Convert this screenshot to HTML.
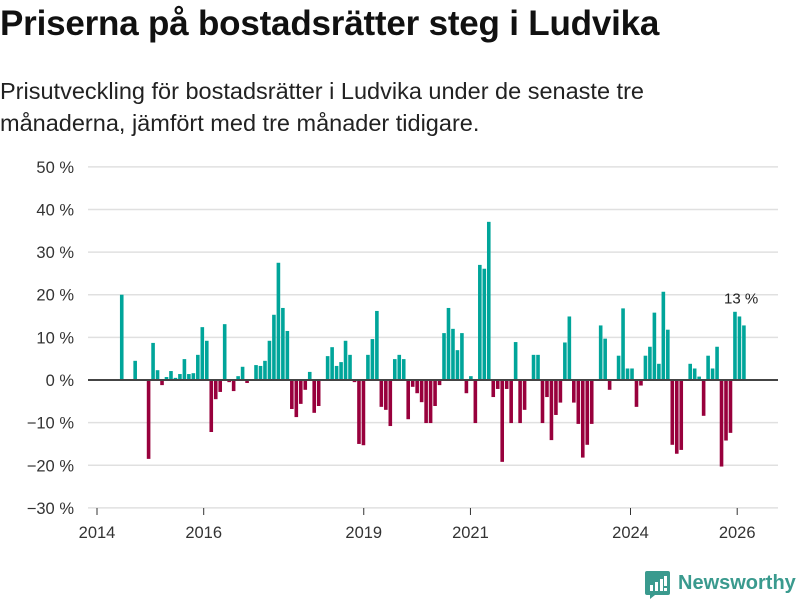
<!DOCTYPE html>
<html><head><meta charset="utf-8">
<style>
body{margin:0;background:#fff;font-family:"Liberation Sans",sans-serif;}
#wrap{position:relative;width:800px;height:600px;overflow:hidden;}
h1{position:absolute;left:0;top:4px;margin:0;font-size:35px;font-weight:bold;color:#111;letter-spacing:-0.2px;white-space:nowrap;}
p.sub{position:absolute;left:0;top:75px;margin:0;font-size:23.5px;line-height:32px;color:#222;width:790px;white-space:nowrap;}
</style></head><body>
<div id="wrap">
<h1>Priserna på bostadsrätter steg i Ludvika</h1>
<p class="sub">Prisutveckling för bostadsrätter i Ludvika under de senaste tre<br>månaderna, jämfört med tre månader tidigare.</p>
<svg id="chart" width="800" height="600" style="position:absolute;left:0;top:0"></svg>
<div style="position:absolute;left:645px;top:571px;height:28px;">
<svg width="25" height="28" style="position:absolute;left:0;top:0">
<path d="M2 0 H23 Q25 0 25 2 V22 Q25 24 23 24 H10 L5 28 V24 H2 Q0 24 0 22 V2 Q0 0 2 0Z" fill="#3a9a8e"/>
<rect x="5" y="14" width="3" height="6" fill="#fff"/><rect x="10" y="11" width="3" height="9" fill="#fff"/><rect x="15" y="8" width="3" height="12" fill="#fff"/><rect x="19" y="5" width="3" height="10" fill="#fff"/><rect x="19" y="17" width="3" height="3" fill="#fff"/>
</svg>
<span style="position:absolute;left:33px;top:1px;font-size:20px;font-weight:bold;color:#3a9a8e;white-space:nowrap;">Newsworthy</span>
</div>
</div>
<script>
const values = [20,null,null,4.5,null,null,-18.5,8.7,2.3,-1.2,
0.7,2.1,0.5,1.4,4.9,1.4,1.6,5.9,12.4,9.2,
-12.2,-4.5,-2.8,13.1,-0.5,-2.6,0.9,3.1,-0.7,null,
3.5,3.3,4.5,9.2,15.3,27.5,16.9,11.5,-6.8,-8.7,
-5.6,-2.3,1.9,-7.7,-6.1,null,5.6,7.7,3.3,4.2,
9.2,5.9,-0.5,-15,-15.3,5.9,9.6,16.2,-6.3,-7,
-10.8,4.9,5.9,4.9,-9.2,-1.6,-3.1,-5.2,-10.1,-10.1,
-6.1,-1.2,11,16.9,12,7,11,-3.1,0.9,-10.1,
27,26.1,37.1,-4,-2.1,-19.2,-2.1,-10.1,8.9,-10.1,
-7,null,5.9,5.9,-10.1,-4,-14.1,-8.2,-5.3,8.8,
14.9,-5.3,-10.3,-18.2,-15.2,-10.3,null,12.8,9.7,-2.3,
null,5.7,16.8,2.7,2.7,-6.3,-1.3,5.7,7.8,15.8,
3.8,20.7,11.8,-15.2,-17.3,-16.4,null,3.8,2.7,0.8,
-8.4,5.7,2.7,7.8,-20.3,-14.2,-12.4,16,14.9,12.8];
const startYear = 2014.43;
const periodYears = 0.0839;
const yTicks = [50,40,30,20,10,0,-10,-20,-30];
const xTicks = [2014,2016,2019,2021,2024,2026];
const lastLabel = "13 %";

const svg = document.getElementById('chart');
const NS = 'http://www.w3.org/2000/svg';
function xs(t){return 97 + (t-2014)*53.35;}
function ys(v){return 380 - v*4.263;}
function mk(tag, attrs){const e=document.createElementNS(NS,tag);for(const k in attrs)e.setAttribute(k,attrs[k]);svg.appendChild(e);return e;}

yTicks.forEach(v=>{
  const g = mk('line',{x1:88,x2:778,y1:ys(v),y2:ys(v),stroke:'#e0e0e0','stroke-width':1.5});
  
  
  const t = mk('text',{x:74,y:ys(v)+6,'text-anchor':'end','font-size':16.5,fill:'#333','font-family':'Liberation Sans, sans-serif'});
  t.textContent = (v<0 ? '\u2212'+(-v) : String(v)) + ' %';
  
  
});
xTicks.forEach(y=>{
  const l = mk('line',{x1:xs(y),x2:xs(y),y1:508,y2:515,stroke:'#333','stroke-width':1});
  
  
  const t = mk('text',{x:xs(y),y:538,'text-anchor':'middle','font-size':16.5,fill:'#333','font-family':'Liberation Sans, sans-serif'});
  t.textContent = y;
  
  
});
let lastX=0,lastV=0;
values.forEach((v,i)=>{
  if(v===null) return;
  const x = xs(startYear + i*periodYears);
  const y0 = ys(0), y1 = ys(v);
  const r = mk('rect',{x:x,y:Math.min(y0,y1),width:3.6,height:Math.abs(y1-y0),fill:v>=0?'#00a59a':'#98003c'});
  
  
  lastX=x; lastV=v;
});
const z = mk('line',{x1:88,x2:778,y1:ys(0),y2:ys(0),stroke:'#444','stroke-width':2});


const an = mk('text',{x:lastX-1,y:ys(lastV)-22,'text-anchor':'middle','font-size':15,fill:'#222','font-family':'Liberation Sans, sans-serif'});
an.textContent = lastLabel;


</script>
</body></html>
